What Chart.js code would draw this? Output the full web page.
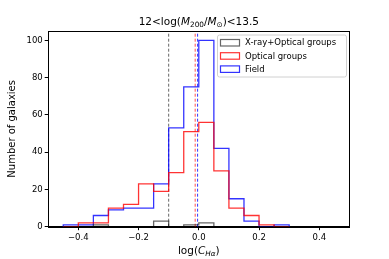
<!DOCTYPE html>
<html><head><meta charset="utf-8">
<script src="https://cdn.jsdelivr.net/npm/chart.js@4/dist/chart.umd.min.js"></script>
<style>html,body{margin:0;padding:0;background:#fff}#wrap{width:389px;height:259px}</style>
</head><body><div id="wrap"><canvas id="c" width="389" height="259"></canvas></div>
<script>
const binEdges = [-0.45,-0.4,-0.35,-0.3,-0.25,-0.2,-0.15,-0.1,-0.05,0.0,0.05,0.1,0.15,0.2,0.25,0.3];
const xrayOptical = [0,0,1,0,0,0,3,0,1,2,0,0,0,0,0];
const opticalGroups = [0,2,2,10,12,23,19,29,51,56,30,10,6,1,0];
const field = [1,1,6,9,10,10,23,53,75,100,42,15,3,0,1];
const medians = {xray:-0.1, optical:-0.012, field:-0.004};
const seriesNames = ['X-ray+Optical groups','Optical groups','Field'];
const colors = ['rgba(0,0,0,0.6)','rgba(255,0,0,0.8)','rgba(0,0,255,0.8)'];
const xTicks = [-0.4,-0.2,0.0,0.2,0.4];
const yTicks = [0,20,40,60,80,100];

// points at bin right edges; Chart.js 'after' draws vertical at previous x, then horizontal
function stepPts(counts){
  const p=[{x:binEdges[0],y:0}];
  counts.forEach((c,i)=>p.push({x:binEdges[i+1],y:c}));
  p.push({x:binEdges[binEdges.length-1],y:0});
  return p;
}
const YMAX=105;
function vline(x,col){
  return {type:'line',data:[{x:x,y:0},{x:x,y:YMAX}],borderColor:col,borderWidth:1,borderDash:[3,2],pointRadius:0,fill:false};
}
const FONT='"DejaVu Sans", sans-serif';

function drawRich(ctx, parts, cx, baseline){
  let w=0;
  parts.forEach(p=>{ctx.font=(p[2]?'italic ':'')+p[1]+'px '+FONT; w+=ctx.measureText(p[0]).width;});
  let x=cx-w/2;
  ctx.textAlign='left'; ctx.textBaseline='alphabetic'; ctx.fillStyle='#000';
  parts.forEach(p=>{ctx.font=(p[2]?'italic ':'')+p[1]+'px '+FONT; ctx.fillText(p[0],x,baseline+(p[3]||0)); x+=ctx.measureText(p[0]).width;});
}

const deco={
  id:'deco',
  afterDraw(chart){
    const ctx=chart.ctx, a=chart.chartArea;
    ctx.save();
    ctx.strokeStyle='#000'; ctx.lineWidth=1;
    ctx.strokeRect(Math.round(a.left)+0.5,Math.round(a.top)+0.5,Math.round(a.right-a.left),Math.round(a.bottom-a.top));
    const cx=(a.left+a.right)/2;
    drawRich(ctx,[['12<log(',10.5,false],['M',10.5,true],['200',7.3,false,2],['/',10.5,false],['M',10.5,true],['⊙',7.3,false,2],[')<13.5',10.5,false]],cx,25);
    drawRich(ctx,[['log(',10.5,false],['C',10.5,true],['Hα',7.3,true,2.2],[')',10.5,false]],cx,253.5);
    const lx=217, ly=34.5, lw=129, lh=42;
    ctx.fillStyle='rgba(255,255,255,0.8)'; ctx.strokeStyle='#d0d0d0'; ctx.lineWidth=1;
    ctx.beginPath(); ctx.roundRect(lx+0.5,ly+0.5,lw,lh,2); ctx.fill(); ctx.stroke();
    ctx.font='8.5px '+FONT; ctx.textBaseline='middle'; ctx.textAlign='left';
    seriesNames.forEach((n,i)=>{
      const yy=42.7+i*13.2;
      ctx.strokeStyle=colors[i]; ctx.lineWidth=1.2;
      ctx.strokeRect(220.5,yy-3.2,19,6.5);
      ctx.fillStyle='#000'; ctx.fillText(n,245,yy+0.5);
    });
    ctx.restore();
  }
};

new Chart(document.getElementById('c'),{
  type:'line',
  data:{datasets:[
    {data:stepPts(xrayOptical),borderColor:colors[0],borderWidth:1.3,stepped:'after',pointRadius:0,fill:false},
    {data:stepPts(opticalGroups),borderColor:colors[1],borderWidth:1.3,stepped:'after',pointRadius:0,fill:false},
    {data:stepPts(field),borderColor:colors[2],borderWidth:1.3,stepped:'after',pointRadius:0,fill:false},
    vline(medians.xray,'rgba(0,0,0,0.6)'),
    vline(medians.optical,'rgba(255,0,0,0.7)'),
    vline(medians.field,'rgba(0,0,255,0.8)')
  ]},
  options:{
    responsive:false,animation:false,
    layout:{padding:{left:0,right:39.6,top:31,bottom:0}},
    plugins:{legend:{display:false},title:{display:false},tooltip:{enabled:false}},
    scales:{
      x:{type:'linear',min:-0.5,max:0.5,
        afterBuildTicks(s){s.ticks=xTicks.map(v=>({value:v}));},
        afterFit(s){s.height=32.3;},
        grid:{display:true,drawOnChartArea:false,drawTicks:true,tickLength:3.5,color:'#000'},
        border:{display:true,color:'#000',width:1},
        ticks:{color:'#000',font:{family:FONT,size:8.5},padding:2,maxRotation:0,
          callback:(v)=>(v<0?'\u2212':'')+Math.abs(v).toFixed(1)}
      },
      y:{type:'linear',min:0,max:YMAX,
        afterBuildTicks(s){s.ticks=yTicks.map(v=>({value:v}));},
        afterFit(s){s.width=48.2;},
        grid:{display:true,drawOnChartArea:false,drawTicks:true,tickLength:3.5,color:'#000'},
        border:{display:true,color:'#000',width:1},
        ticks:{color:'#000',font:{family:FONT,size:8.5},padding:2},
        title:{display:true,text:'Number of galaxies',color:'#000',font:{family:FONT,size:10},padding:{top:6,bottom:0}}
      }
    }
  },
  plugins:[deco]
});
</script></body></html>
